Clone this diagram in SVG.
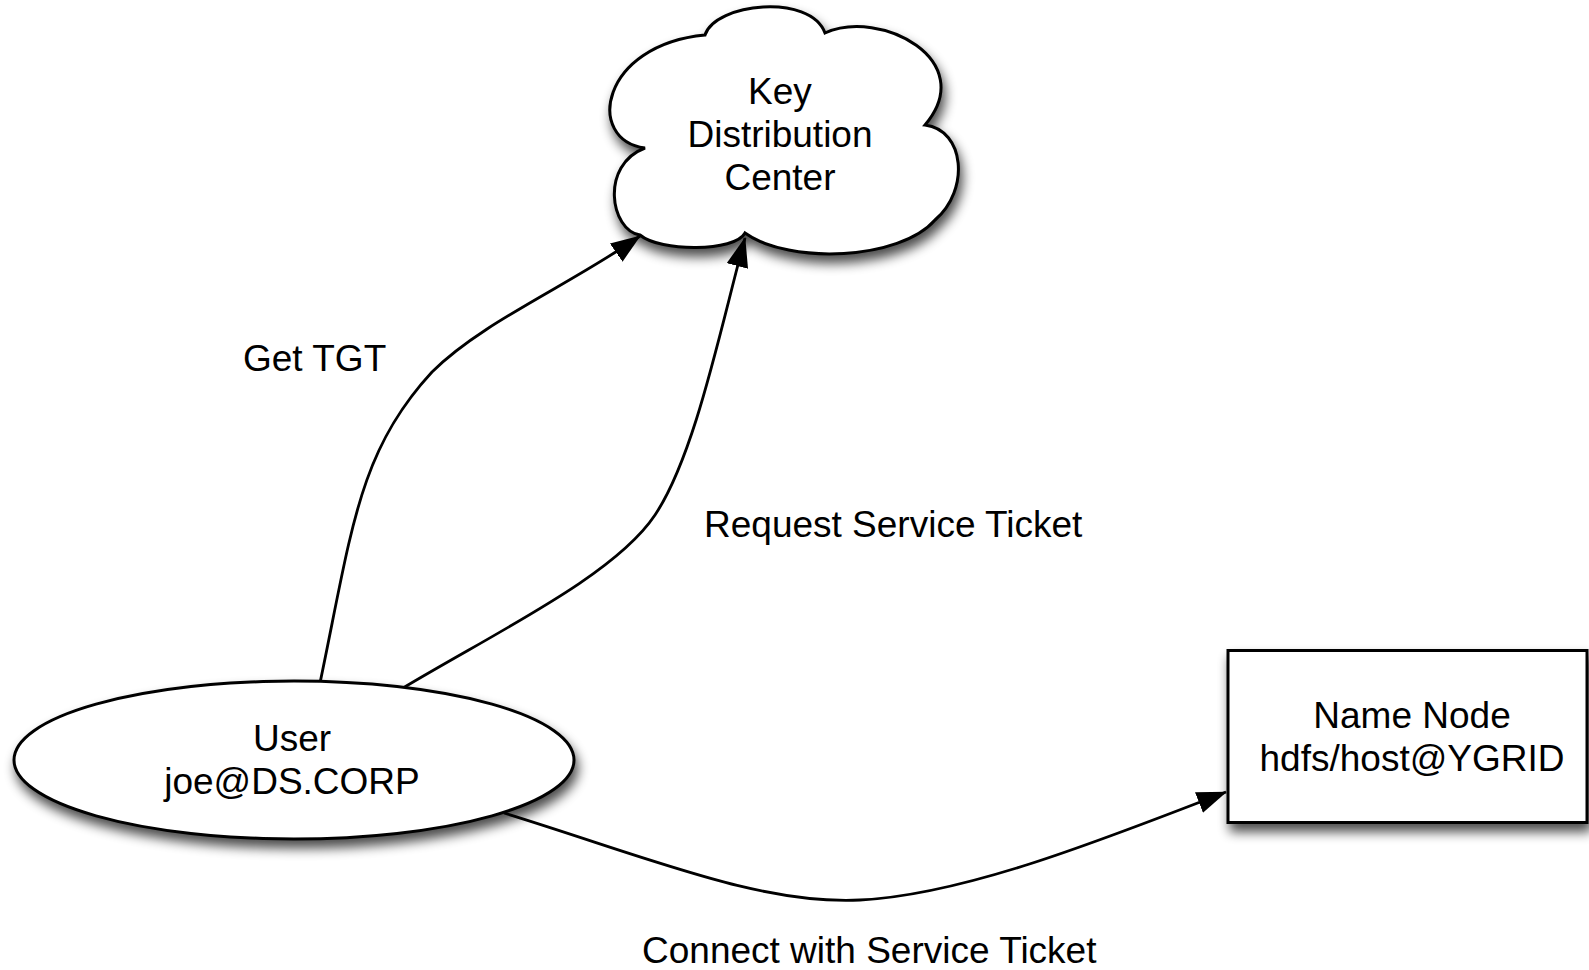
<svg xmlns="http://www.w3.org/2000/svg" width="1589" height="970" viewBox="0 0 1589 970">
  <style>
    .shape { fill: #ffffff; stroke: #000000; stroke-width: 3; filter: url(#shadow); }
    .label { font-family: "Liberation Sans", Arial, sans-serif; font-size: 37px; fill: #000000; }
    .center { text-anchor: middle; }
    .edge { fill: none; stroke: #000000; stroke-width: 2.8; marker-end: url(#arrow); }
  </style>
  <defs>
    <filter id="shadow" x="-20%" y="-20%" width="140%" height="150%">
      <feGaussianBlur in="SourceAlpha" stdDeviation="6"/>
      <feOffset dx="3" dy="8" result="blur"/>
      <feComponentTransfer>
        <feFuncA type="linear" slope="0.7"/>
      </feComponentTransfer>
      <feMerge>
        <feMergeNode/>
        <feMergeNode in="SourceGraphic"/>
      </feMerge>
    </filter>
    <marker id="arrow" markerUnits="userSpaceOnUse" viewBox="0 0 30 22" markerWidth="30" markerHeight="22" refX="29" refY="11" orient="auto">
      <path d="M0,0 L30,11 L0,22 z" fill="#000000"/>
    </marker>
  </defs>

  <!-- connectors -->
  <g id="connectors">
    <path id="edge-get-tgt" class="edge" d="M320,683 C352,530 358,452 432,372 C482,322 570,285 640,236"/>
    <path id="edge-request-ticket" class="edge" d="M403,688 C500,630 615,575 655,515 C695,455 720,330 745,238"/>
    <path id="edge-connect" class="edge" d="M504,813 C650,858 760,905 860,900 C960,895 1090,845 1226,792"/>
  </g>

  <!-- Key Distribution Center -->
  <g id="kdc">
    <path class="shape" d="M645,148 C585,140 600,45 705,35 C715,3 810,-7 825,33 C880,8 980,60 925,125 C965,130 970,190 935,220 C900,260 790,265 745,233 C735,252 660,252 640,235 C610,230 600,165 645,148 Z"/>
    <text class="label center" x="780" y="104">Key</text>
    <text class="label center" x="780" y="147">Distribution</text>
    <text class="label center" x="780" y="190">Center</text>
  </g>

  <!-- User -->
  <g id="user">
    <ellipse class="shape" cx="294" cy="760" rx="280" ry="79"/>
    <text class="label center" x="292" y="751">User</text>
    <text class="label center" x="292" y="794">joe@DS.CORP</text>
  </g>

  <!-- Name Node -->
  <g id="namenode">
    <rect class="shape" x="1228" y="650.5" width="359" height="172"/>
    <text class="label center" x="1412" y="728">Name Node</text>
    <text class="label center" x="1412" y="771">hdfs/host@YGRID</text>
  </g>

  <!-- edge labels -->
  <g id="edge-labels">
    <text class="label" x="243" y="371">Get TGT</text>
    <text class="label" x="704" y="537">Request Service Ticket</text>
    <text class="label" x="642" y="963">Connect with Service Ticket</text>
  </g>
</svg>
